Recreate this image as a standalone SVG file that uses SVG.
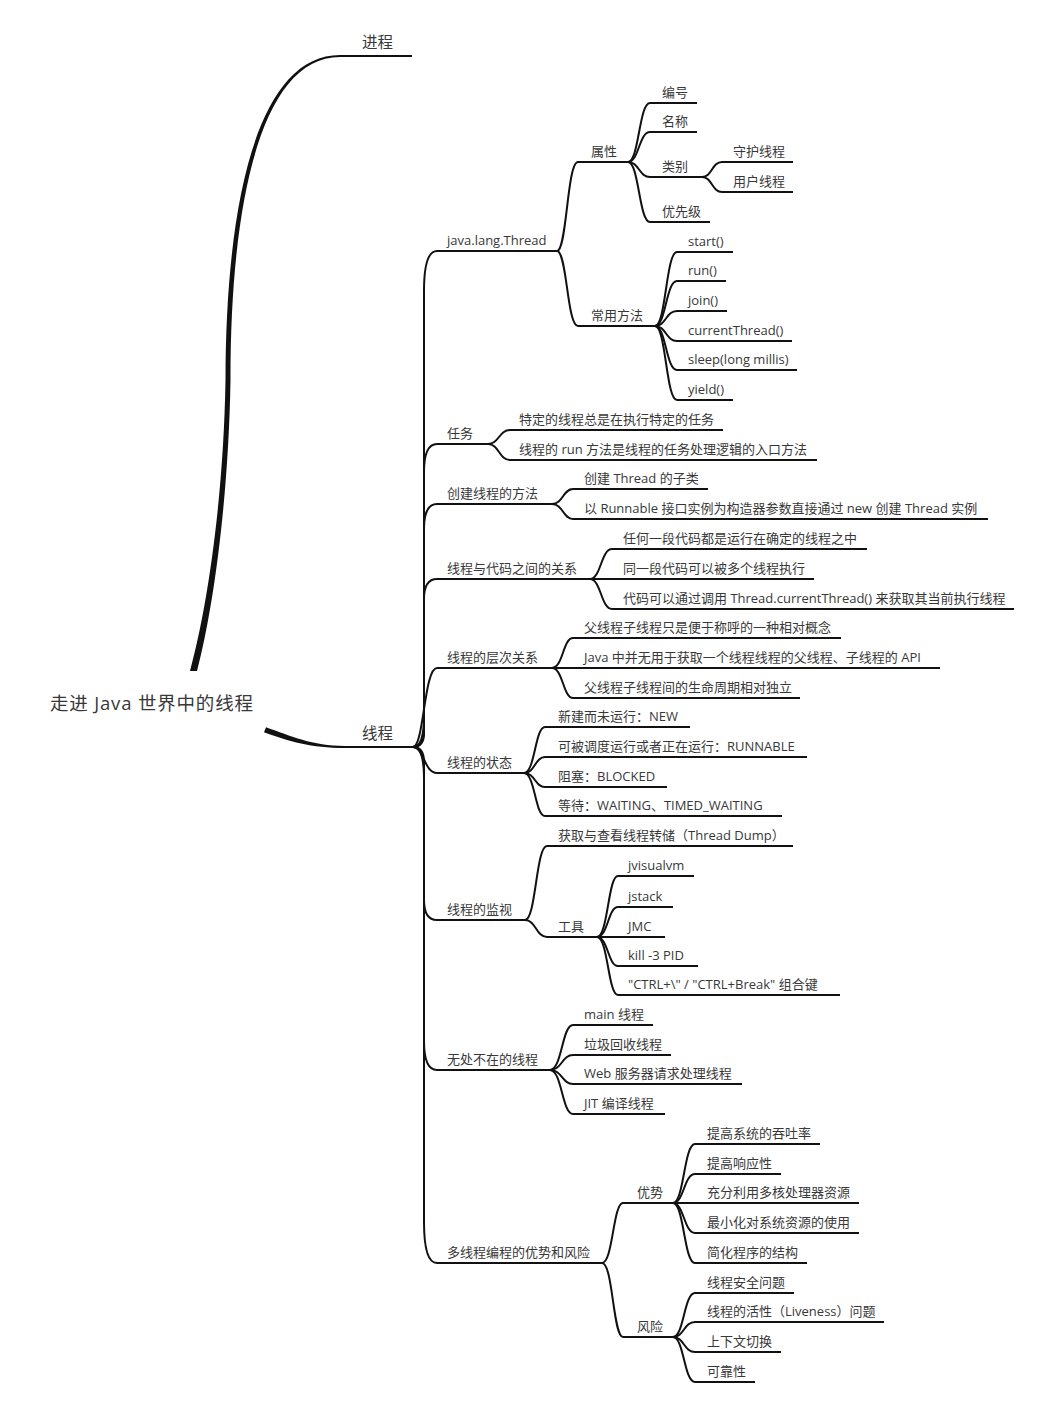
<svg xmlns="http://www.w3.org/2000/svg" width="1037" height="1404" viewBox="0 0 1037 1404">
<style>
.c{fill:none;stroke:#111;stroke-width:2}
.f{fill:#111;stroke:none}
text{font-family:"Open Sans","Noto Sans CJK SC",sans-serif;font-size:13px;fill:#383838}
.l1{font-size:15.5px}
.rt{font-size:18.5px}
</style>
<rect width="1037" height="1404" fill="#fff"/>
<g id="connectors">
<path class="f" d="M190,671 C207,609 223.5,500 225.5,380 C225.7,199 258.5,55 340,55 L412,55 L412,57 L340,57 C261.5,57 230.3,201 230.5,380 C228.5,500 213,611 197,671 Z"/>
<path class="f" d="M266,727.3 C291,736 312,746 345,746 L413,746 L413,748 L345,748 C311,748 289,741.5 264,732.3 Z"/>
<path class="c" d="M413,747 Q424,747 424,716 L424,291 Q424,251 437,251 H557"/>
<path class="c" d="M413,747 Q424,747 424,726 L424,472 Q424,444 437,444 H488"/>
<path class="c" d="M413,747 Q424,747 424,729 L424,529 Q424,504 437,504 H552"/>
<path class="c" d="M413,747 Q424,747 424,733 L424,599 Q424,579 437,579 H590"/>
<path class="c" d="M413,747 C424,747 424,668 437,668 H552"/>
<path class="c" d="M413,747 C424,747 424,773 437,773 H524"/>
<path class="c" d="M413,747 Q424,747 424,762 L424,900 Q424,920 437,920 H525"/>
<path class="c" d="M413,747 Q424,747 424,769 L424,1041 Q424,1070 437,1070 H550"/>
<path class="c" d="M413,747 Q424,747 424,779 L424,1222 Q424,1263 437,1263 H602"/>
<path class="c" d="M557,251 C567,251 567,162 578,162 H628"/>
<path class="c" d="M557,251 C567,251 567,326 578,326 H655"/>
<path class="c" d="M628,162 C639,162 639,103 650,103 H697"/>
<path class="c" d="M628,162 C639,162 639,132 650,132 H697"/>
<path class="c" d="M628,162 C639,162 639,177 650,177 H702"/>
<path class="c" d="M628,162 C639,162 639,222 650,222 H710"/>
<path class="c" d="M702,177 C712,177 712,162 722,162 H793"/>
<path class="c" d="M702,177 C712,177 712,192 722,192 H793"/>
<path class="c" d="M655,326 C666,326 666,252 677,252 H733"/>
<path class="c" d="M655,326 C666,326 666,281 677,281 H726"/>
<path class="c" d="M655,326 C666,326 666,311 677,311 H727"/>
<path class="c" d="M655,326 C666,326 666,341 677,341 H792"/>
<path class="c" d="M655,326 C666,326 666,370 677,370 H797"/>
<path class="c" d="M655,326 C666,326 666,400 677,400 H733"/>
<path class="c" d="M488,444 C499,444 499,430 510,430 H723"/>
<path class="c" d="M488,444 C499,444 499,460 510,460 H817"/>
<path class="c" d="M552,504 C563,504 563,489 573,489 H708"/>
<path class="c" d="M552,504 C563,504 563,519 573,519 H988"/>
<path class="c" d="M590,579 C601,579 601,549 612,549 H867"/>
<path class="c" d="M590,579 H814"/>
<path class="c" d="M590,579 C601,579 601,609 612,609 H1014"/>
<path class="c" d="M552,668 C563,668 563,638 573,638 H841"/>
<path class="c" d="M552,668 H940"/>
<path class="c" d="M552,668 C563,668 563,698 573,698 H800"/>
<path class="c" d="M524,773 C535,773 535,727 545,727 H690"/>
<path class="c" d="M524,773 C535,773 535,757 545,757 H807"/>
<path class="c" d="M524,773 C535,773 535,787 545,787 H667"/>
<path class="c" d="M524,773 C535,773 535,816 545,816 H782"/>
<path class="c" d="M525,920 C536,920 536,846 547,846 H793"/>
<path class="c" d="M525,920 C536,920 536,937 547,937 H597"/>
<path class="c" d="M597,937 C608,937 608,876 618,876 H694"/>
<path class="c" d="M597,937 C608,937 608,907 618,907 H673"/>
<path class="c" d="M597,937 H665"/>
<path class="c" d="M597,937 C608,937 608,966 618,966 H698"/>
<path class="c" d="M597,937 C608,937 608,995 618,995 H840"/>
<path class="c" d="M550,1070 C562,1070 562,1025 573,1025 H653"/>
<path class="c" d="M550,1070 C562,1070 562,1055 573,1055 H671"/>
<path class="c" d="M550,1070 C562,1070 562,1084 573,1084 H742"/>
<path class="c" d="M550,1070 C562,1070 562,1114 573,1114 H665"/>
<path class="c" d="M602,1263 C613,1263 613,1203 623,1203 H673"/>
<path class="c" d="M602,1263 C613,1263 613,1337 623,1337 H673"/>
<path class="c" d="M673,1203 C684,1203 684,1144 695,1144 H820"/>
<path class="c" d="M673,1203 C684,1203 684,1174 695,1174 H781"/>
<path class="c" d="M673,1203 H859"/>
<path class="c" d="M673,1203 C684,1203 684,1233 695,1233 H859"/>
<path class="c" d="M673,1203 C684,1203 684,1263 695,1263 H807"/>
<path class="c" d="M673,1337 C684,1337 684,1293 695,1293 H794"/>
<path class="c" d="M673,1337 C684,1337 684,1322 695,1322 H884"/>
<path class="c" d="M673,1337 C684,1337 684,1352 695,1352 H781"/>
<path class="c" d="M673,1337 C684,1337 684,1382 695,1382 H755"/>
</g>
<g id="n-root"><text class="rt" x="50" y="710" textLength="203" lengthAdjust="spacing">走进 Java 世界中的线程</text></g>
<g id="n-jincheng"><text class="l1" x="362" y="48">进程</text></g>
<g id="n-xiancheng"><text class="l1" x="362" y="739">线程</text></g>
<g id="n-thread"><text x="447" y="245">java.lang.Thread</text></g>
<g id="n-shuxing"><text x="591" y="156">属性</text></g>
<g id="n-bianhao"><text x="662" y="97">编号</text></g>
<g id="n-mingcheng"><text x="662" y="126">名称</text></g>
<g id="n-leibie"><text x="662" y="171">类别</text></g>
<g id="n-shouhu"><text x="733" y="156">守护线程</text></g>
<g id="n-yonghu"><text x="733" y="186">用户线程</text></g>
<g id="n-youxianji"><text x="662" y="216">优先级</text></g>
<g id="n-fangfa"><text x="591" y="320">常用方法</text></g>
<g id="n-start"><text x="688" y="246">start()</text></g>
<g id="n-run"><text x="688" y="275">run()</text></g>
<g id="n-join"><text x="688" y="305">join()</text></g>
<g id="n-current"><text x="688" y="335">currentThread()</text></g>
<g id="n-sleep"><text x="688" y="364">sleep(long millis)</text></g>
<g id="n-yield"><text x="688" y="394">yield()</text></g>
<g id="n-renwu"><text x="447" y="438">任务</text></g>
<g id="n-renwu1"><text x="519" y="424">特定的线程总是在执行特定的任务</text></g>
<g id="n-renwu2"><text x="519" y="454">线程的 run 方法是线程的任务处理逻辑的入口方法</text></g>
<g id="n-chuangjian"><text x="447" y="498">创建线程的方法</text></g>
<g id="n-cj1"><text x="584" y="483">创建 Thread 的子类</text></g>
<g id="n-cj2"><text x="584" y="513">以 Runnable 接口实例为构造器参数直接通过 new 创建 Thread 实例</text></g>
<g id="n-daima"><text x="447" y="573">线程与代码之间的关系</text></g>
<g id="n-dm1"><text x="623" y="543">任何一段代码都是运行在确定的线程之中</text></g>
<g id="n-dm2"><text x="623" y="573">同一段代码可以被多个线程执行</text></g>
<g id="n-dm3"><text x="623" y="603">代码可以通过调用 Thread.currentThread() 来获取其当前执行线程</text></g>
<g id="n-cengci"><text x="447" y="662">线程的层次关系</text></g>
<g id="n-cc1"><text x="584" y="632">父线程子线程只是便于称呼的一种相对概念</text></g>
<g id="n-cc2"><text x="584" y="662">Java 中并无用于获取一个线程线程的父线程、子线程的 API</text></g>
<g id="n-cc3"><text x="584" y="692">父线程子线程间的生命周期相对独立</text></g>
<g id="n-zhuangtai"><text x="447" y="767">线程的状态</text></g>
<g id="n-zt1"><text x="558" y="721">新建而未运行：NEW</text></g>
<g id="n-zt2"><text x="558" y="751">可被调度运行或者正在运行：RUNNABLE</text></g>
<g id="n-zt3"><text x="558" y="781">阻塞：BLOCKED</text></g>
<g id="n-zt4"><text x="558" y="810">等待：WAITING、TIMED_WAITING</text></g>
<g id="n-jianshi"><text x="447" y="914">线程的监视</text></g>
<g id="n-js1"><text x="558" y="840">获取与查看线程转储（Thread Dump）</text></g>
<g id="n-gongju"><text x="558" y="931">工具</text></g>
<g id="n-gj1"><text x="628" y="870">jvisualvm</text></g>
<g id="n-gj2"><text x="628" y="901">jstack</text></g>
<g id="n-gj3"><text x="628" y="931">JMC</text></g>
<g id="n-gj4"><text x="628" y="960">kill -3 PID</text></g>
<g id="n-gj5"><text x="628" y="989">"CTRL+\" / "CTRL+Break" 组合键</text></g>
<g id="n-wuchu"><text x="447" y="1064">无处不在的线程</text></g>
<g id="n-wc1"><text x="584" y="1019">main 线程</text></g>
<g id="n-wc2"><text x="584" y="1049">垃圾回收线程</text></g>
<g id="n-wc3"><text x="584" y="1078">Web 服务器请求处理线程</text></g>
<g id="n-wc4"><text x="584" y="1108">JIT 编译线程</text></g>
<g id="n-duoxiancheng"><text x="447" y="1257">多线程编程的优势和风险</text></g>
<g id="n-youshi"><text x="637" y="1197">优势</text></g>
<g id="n-ys1"><text x="707" y="1138">提高系统的吞吐率</text></g>
<g id="n-ys2"><text x="707" y="1168">提高响应性</text></g>
<g id="n-ys3"><text x="707" y="1197">充分利用多核处理器资源</text></g>
<g id="n-ys4"><text x="707" y="1227">最小化对系统资源的使用</text></g>
<g id="n-ys5"><text x="707" y="1257">简化程序的结构</text></g>
<g id="n-fengxian"><text x="637" y="1331">风险</text></g>
<g id="n-fx1"><text x="707" y="1287">线程安全问题</text></g>
<g id="n-fx2"><text x="707" y="1316">线程的活性（Liveness）问题</text></g>
<g id="n-fx3"><text x="707" y="1346">上下文切换</text></g>
<g id="n-fx4"><text x="707" y="1376">可靠性</text></g>
</svg>
